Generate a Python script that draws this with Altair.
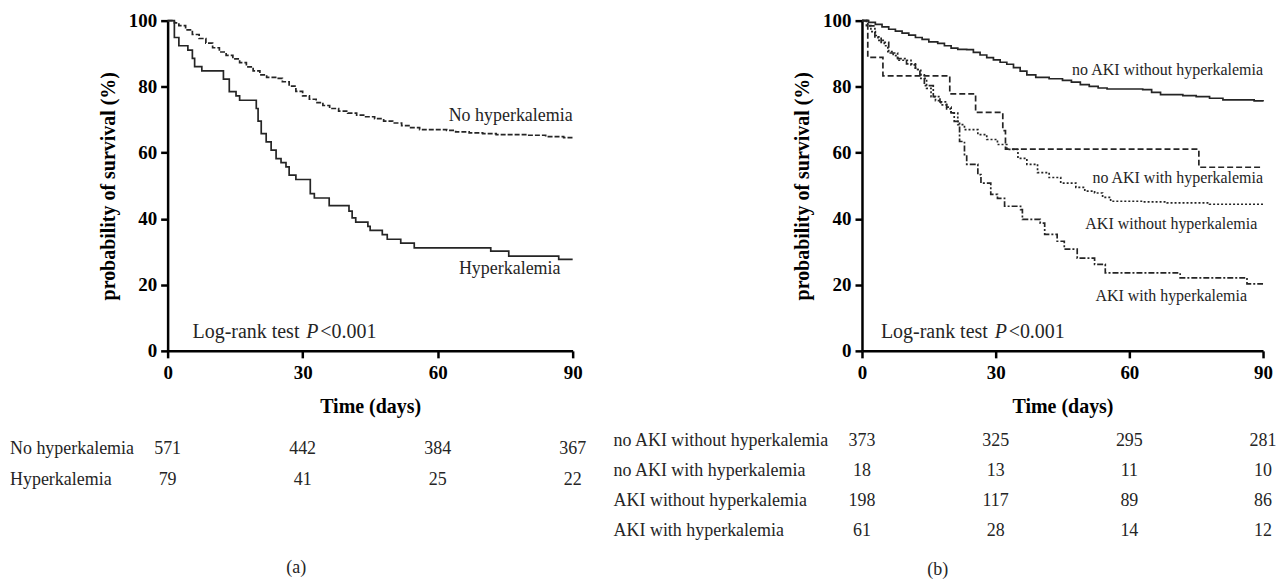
import altair as alt
import pandas as pd

FONT = "Liberation Serif"
INK = "#252525"

# ---------------- Panel (a) data ----------------
a_nohyper_t = [0, 1.5, 2.5, 4, 5.5, 7, 8.5, 10, 11.5, 13, 14.5, 16, 17.5, 19, 20.5, 22, 24, 25.5, 27, 28.5,
               30, 31.5, 33, 34.5, 36, 38, 40, 42, 44, 46, 48, 50, 52, 54, 56, 62, 64, 67, 70, 73, 80, 84, 88, 90]
a_nohyper_s = [100, 99.3, 98.5, 97.2, 95.8, 94.6, 93.2, 91.8, 90.5, 89.5, 88.4, 87.3, 86.0, 84.8, 83.6, 82.8, 82.5,
               81.5, 80.2, 78.6, 77.2, 76.2, 75.2, 74.3, 73.4, 72.6, 72.0, 71.4, 70.9, 70.3, 69.6, 69.0, 68.2, 67.6,
               67.0, 66.8, 66.3, 66.0, 65.8, 65.5, 65.3, 64.9, 64.6, 64.4]

a_hyper_t = [0, 1.5, 2.5, 4.5, 5.5, 6, 7.6, 12.4, 13.7, 15.2, 16, 19.7, 20.1, 20.8, 21.9, 23, 24.1, 25.2, 26.3, 27,
             28.5, 31.7, 32.6, 35.9, 40.3, 41, 41.8, 44.5, 45, 47.7, 48.8, 51.8, 54.8, 71.8, 75.8, 86.9, 90]
a_hyper_s = [100, 94.9, 92.4, 91.1, 88.6, 86.1, 84.8, 82.3, 78.5, 77.2, 75.9, 73.4, 69.6, 65.8, 63.3, 60.8, 58.2,
             57.0, 55.7, 53.2, 51.9, 47.6, 46.3, 44.0, 42.3, 40.3, 39.0, 37.7, 36.5, 35.2, 33.8, 32.6, 31.2, 30.2,
             28.7, 27.7, 27.7]

a_groups = ["No hyperkalemia", "Hyperkalemia"]
a_risk_no = [571, 442, 384, 367]
a_risk_hyper = [79, 41, 25, 22]
risk_days = [0, 30, 60, 90]

# ---------------- Panel (b) data ----------------
b_noaki_nohyper_t = [0, 1.5, 3, 4.5, 6, 7.5, 9, 10.5, 12, 13.5, 15, 17, 18.5, 20, 21.5, 23.5, 25, 26.5, 28, 29.5,
                     31, 32.5, 34, 35.5, 37, 39, 42, 45, 47, 49, 51, 53, 55, 63, 65, 67, 72, 75, 78, 81, 88, 90]
b_noaki_nohyper_s = [100, 99.5, 98.9, 98.1, 97.4, 96.8, 96.2, 95.6, 94.9, 94.3, 93.6, 93.1, 92.4, 91.7, 91.3, 91.2,
                     90.4, 89.6, 88.8, 88.1, 87.4, 86.8, 85.8, 84.7, 83.6, 82.8, 82.4, 81.9, 81.4, 80.6, 80.1, 79.6,
                     79.3, 79.1, 78.3, 77.6, 77.3, 77.0, 76.5, 76.0, 75.7, 75.5]

b_noaki_hyper_t = [0, 1.3, 4.7, 19.7, 25.5, 31.6, 32.2, 75.6, 90]
b_noaki_hyper_s = [100, 88.9, 83.3, 77.8, 72.2, 66.7, 61.1, 55.6, 55.6]

b_aki_nohyper_t = [0, 1, 2, 3, 3.6, 5, 5.8, 7, 8, 11, 12, 13.2, 14.5, 15.5, 16.5, 17.7, 19, 20, 21.5, 23, 26, 28,
                   30.4, 32.5, 35, 37, 39.4, 42, 44.6, 48, 50, 52.2, 54, 55.8, 63, 68.5, 78, 90]
b_aki_nohyper_s = [100, 98.5, 96.7, 95.5, 94.0, 92.4, 90.6, 89.4, 88.0, 86.6, 85.2, 82.5, 79.5, 77.0, 75.8, 74.5,
                   73.3, 72.0, 68.5, 67.0, 65.5, 64.0, 62.5, 61.0, 58.3, 56.5, 54.0, 52.5, 50.8, 49.5, 48.4, 47.8,
                   46.5, 45.3, 45.1, 44.8, 44.4, 44.1]

b_aki_hyper_t = [0, 1.3, 2.9, 4.3, 6, 8, 10, 12, 13, 14, 16, 17.5, 19, 20, 20.7, 21.9, 23, 23.5, 26, 26.7, 28.9,
                 30.4, 32, 35.6, 36, 40, 41, 43.8, 45.4, 48.3, 52.2, 54.6, 71.4, 86.4, 90]
b_aki_hyper_s = [100, 98.4, 95.1, 93.4, 90.2, 88.5, 86.9, 85.2, 83.6, 80.3, 77.0, 75.4, 73.8, 72.1, 69.5, 63.4,
                 59.4, 56.5, 53.4, 50.8, 47.4, 46.2, 43.8, 42.8, 39.8, 38.7, 35.3, 33.2, 30.8, 28.1, 26.2, 23.6,
                 22.1, 20.3, 20.3]

b_groups = ["no AKI without hyperkalemia", "no AKI with hyperkalemia",
            "AKI without hyperkalemia", "AKI with hyperkalemia"]
b_risk_1 = [373, 325, 295, 281]
b_risk_2 = [18, 13, 11, 10]
b_risk_3 = [198, 117, 89, 86]
b_risk_4 = [61, 28, 14, 12]

# ---------------- helpers ----------------
X = alt.X("day:Q", scale=alt.Scale(domain=[0, 90], nice=False, zero=False),
          axis=alt.Axis(values=risk_days, title="Time (days)", labelFlush=False,
                        labelPadding=6, titlePadding=14))
Y = alt.Y("surv:Q", scale=alt.Scale(domain=[0, 100], nice=False),
          axis=alt.Axis(values=[0, 20, 40, 60, 80, 100], title="probability of survival (%)",
                        labelFlush=False, labelPadding=4, titlePadding=10))


def curve(times, surv, dash):
    df = pd.DataFrame({"day": times, "surv": surv})
    kw = dict(interpolate="step-after", color=INK, strokeWidth=1.7)
    if dash:
        kw["strokeDash"] = dash
    return alt.Chart(df).mark_line(**kw).encode(x=X, y=Y)


def label(text, xd, yd, size):
    return alt.Chart(pd.DataFrame({"t": [text]})).mark_text(
        font=FONT, fontSize=size, color=INK, align="right", baseline="middle"
    ).encode(x=alt.datum(xd), y=alt.datum(yd), text="t:N")


def free_text(text, px, py, size, align="left", style="normal"):
    return alt.Chart(pd.DataFrame({"t": [text]})).mark_text(
        font=FONT, fontSize=size, color=INK, align=align, baseline="middle", fontStyle=style
    ).encode(x=alt.value(px), y=alt.value(py), text="t:N")


def risk_row(name, counts, py, name_px, size):
    df = pd.DataFrame({"day": risk_days, "n": [str(c) for c in counts]})
    nums = alt.Chart(df).mark_text(font=FONT, fontSize=size, color=INK, align="center",
                                   baseline="middle").encode(x=X, y=alt.value(py), text="n:N")
    return [free_text(name, name_px, py, size), nums]


def logrank(x0):
    return [free_text("Log-rank test", x0, 312, 20),
            free_text("P", x0 + 114, 312, 20, style="italic"),
            free_text("<0.001", x0 + 128, 312, 20)]


# ---------------- panel (a) ----------------
a_layers = [
    curve(a_nohyper_t, a_nohyper_s, [5, 2]),
    curve(a_hyper_t, a_hyper_s, None),
    label("No hyperkalemia", 90, 71, 18),
    label("Hyperkalemia", 87.3, 24.8, 18),
    *logrank(25),
    *risk_row(a_groups[0], a_risk_no, 429, -158, 18),
    *risk_row(a_groups[1], a_risk_hyper, 460, -158, 18),
    free_text("(a)", 129, 549, 18, align="center"),
]
panel_a = alt.layer(*a_layers).properties(width=406, height=331)

# ---------------- panel (b) ----------------
b_layers = [
    curve(b_noaki_nohyper_t, b_noaki_nohyper_s, None),
    curve(b_noaki_hyper_t, b_noaki_hyper_s, [6, 3]),
    curve(b_aki_nohyper_t, b_aki_nohyper_s, [2, 2]),
    curve(b_aki_hyper_t, b_aki_hyper_s, [6, 2, 2, 2]),
    label(b_groups[0], 90, 85.2, 16),
    label(b_groups[1], 90, 52.4, 16),
    label(b_groups[2], 88.7, 38.4, 16),
    label(b_groups[3], 86.4, 16.6, 16),
    *logrank(19),
    *risk_row(b_groups[0], b_risk_1, 421, -249, 18),
    *risk_row(b_groups[1], b_risk_2, 451, -249, 18),
    *risk_row(b_groups[2], b_risk_3, 482, -249, 18),
    *risk_row(b_groups[3], b_risk_4, 512, -249, 18),
    free_text("(b)", 76, 551, 18, align="center"),
]
panel_b = alt.layer(*b_layers).properties(width=402, height=331)

chart = alt.hconcat(panel_a, panel_b, spacing=290, bounds="flush").properties(
    padding={"left": 2, "top": 3, "right": 0, "bottom": 0}
).configure_view(stroke=None).configure_axis(
    grid=False,
    domainColor="black", domainWidth=2.5,
    tickColor="black", tickWidth=2.5, tickSize=7,
    labelFont=FONT, labelFontWeight="bold", labelFontSize=19, labelColor="black",
    titleFont=FONT, titleFontWeight="bold", titleFontSize=20, titleColor="black",
)

chart.save("out.html", embed_options={"renderer": "svg", "actions": False})
